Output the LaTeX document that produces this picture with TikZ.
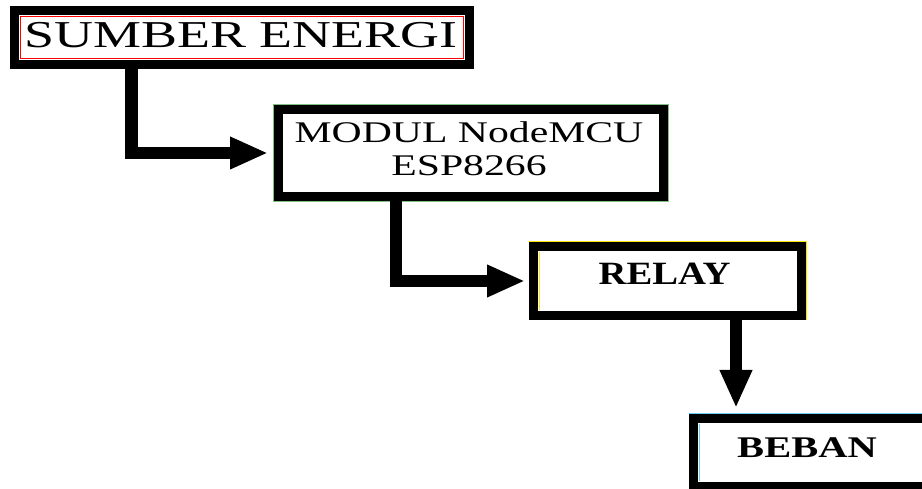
\documentclass[tikz,border=0pt]{standalone}
\usepackage{fontspec}
\setmainfont{Liberation Serif}
\usepackage{graphicx}
\usetikzlibrary{arrows.meta}
\begin{document}
\begin{tikzpicture}[x=1pt,y=1pt,
  blockbox/.style={draw=black, line width=9pt, fill=white, inner sep=0pt, anchor=center},
  conn/.style={draw=black, line width=12.5pt, -{Triangle[length=38pt,width=30pt]}},
  thin/.style={line width=1.3pt}]
\useasboundingbox (0,0) rectangle (922,489);
\clip (0,0) rectangle (922,489);
% boxes
\node[blockbox, minimum width=455pt, minimum height=54pt] (b1) at (242,451.5) {};
\node[blockbox, minimum width=385pt, minimum height=87pt] (b2) at (471,336) {};
\node[blockbox, minimum width=268pt, minimum height=69pt] (b3) at (667.5,208) {};
\node[blockbox, minimum width=280pt, minimum height=68pt] (b4) at (833.5,36.5) {};
% coloured edge lines
\draw[red, thin] ([shift={(10.2,10.2)}]b1.south west) rectangle ([shift={(-10.2,-10.2)}]b1.north east);
\draw[green!50!black!50, thin] ([shift={(-0.4,-0.4)}]b2.south west) rectangle ([shift={(0.4,0.4)}]b2.north east);
\draw[yellow!90!orange, thin] ([shift={(-0.4,0.4)}]b3.north west) -- ([shift={(0.4,0.4)}]b3.north east) -- ([shift={(0.4,-0.4)}]b3.south east);
\draw[yellow!90!orange, thin] ([shift={(10.2,-10.2)}]b3.north west) -- ([shift={(10.2,10.2)}]b3.south west);
\draw[cyan!60, thin] ([shift={(-0.4,0.4)}]b4.north west) -- ([shift={(0.4,0.4)}]b4.north east);
\draw[cyan!60, thin] ([shift={(10.2,-10.2)}]b4.north west) -- ([shift={(10.2,10.2)}]b4.south west);
% texts
\node (t1) at (241,454) {\fontsize{38}{40}\selectfont\scalebox{1.42}[1]{SUMBER ENERGI}};
\node (t2) at (469,337) {\fontsize{30}{33}\selectfont\scalebox{1.39}[1]{\begin{tabular}{@{}c@{}}MODUL NodeMCU\\ESP8266\end{tabular}}};
\node (t3) at (664.5,215) {\fontsize{32.5}{34}\selectfont\bfseries\scalebox{1.19}[1]{RELAY}};
\node (t4) at (807,41) {\fontsize{30}{32}\selectfont\bfseries\scalebox{1.35}[1]{BEBAN}};
% connector helper coordinates
\coordinate (c1) at (131.5,0);
\coordinate (c2) at (396,0);
\coordinate (c3) at (736,0);
% connectors
\draw[conn, shorten >=6pt] (b1.south -| c1) |- (b2.west);
\draw[conn, shorten >=4pt] (b2.south -| c2) |- (b3.west);
\draw[conn, shorten >=6pt] (b3.south -| c3) -- (b4.north -| c3);
\end{tikzpicture}
\end{document}
